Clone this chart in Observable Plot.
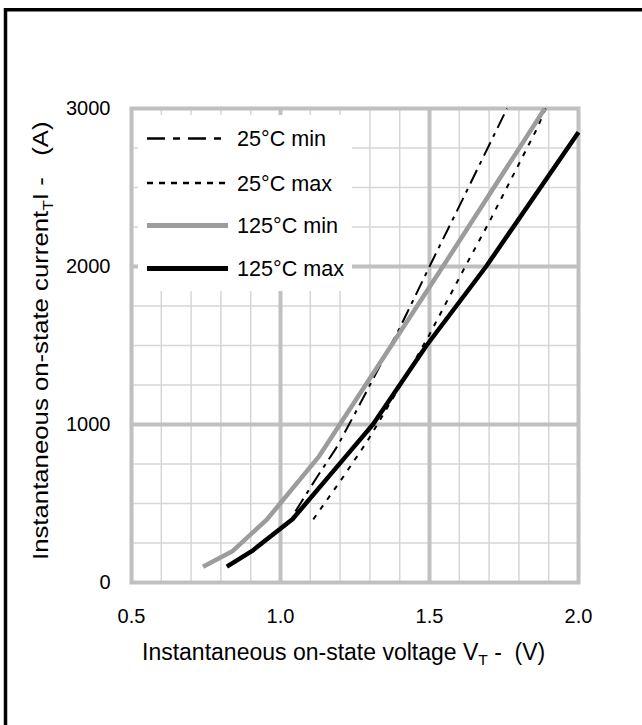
<!DOCTYPE html>
<html><head><meta charset="utf-8">
<script src="https://cdn.jsdelivr.net/npm/d3@7"></script>
<script src="https://cdn.jsdelivr.net/npm/@observablehq/plot@0.6"></script>
<style>body{margin:0;background:#fff} #chart{position:relative;width:642px;height:725px;overflow:hidden}</style>
</head><body><div id="chart"></div>
<script>
// Series names (legend order)
const seriesNames = ["25°C min", "25°C max", "125°C min", "125°C max"];
// Instantaneous on-state voltage V_T (V) and current I_T (A)
const v25min = [1.05, 1.12, 1.19, 1.25, 1.30, 1.40, 1.50, 1.61, 1.76];
const i25min = [450, 660, 860, 1070, 1250, 1610, 2000, 2420, 3000];
const v25max = [1.11, 1.20, 1.29, 1.41, 1.50, 1.62, 1.70, 1.86, 1.89];
const i25max = [400, 640, 890, 1270, 1570, 2000, 2280, 2870, 3000];
const v125min = [0.74, 0.84, 0.955, 1.13, 1.545, 1.887];
const i125min = [100, 200, 400, 800, 2000, 3000];
const v125max = [0.82, 0.905, 1.04, 1.22, 1.31, 1.49, 1.69, 2.0];
const i125max = [100, 200, 400, 800, 1000, 1500, 2000, 2850];
// Axis ticks and grid
const xTicks = [0.5, 1.0, 1.5, 2.0];
const yTicks = [0, 1000, 2000, 3000];
const xMajor = [1.0, 1.5];
const yMajor = [1000, 2000];
const xMinor = [0.6, 0.7, 0.8, 0.9, 1.1, 1.2, 1.3, 1.4, 1.6, 1.7, 1.8, 1.9];
const yMinor = [250, 500, 750, 1250, 1500, 1750, 2250, 2500, 2750];

const styles = {
  "25°C min": {stroke: "#000", strokeWidth: 2, strokeDasharray: "15,6,4,6", legendWidth: 2.6, legendDash: "18,8,7,8"},
  "25°C max": {stroke: "#000", strokeWidth: 2, strokeDasharray: "5,7", legendWidth: 2.6, legendDash: "6,6"},
  "125°C min": {stroke: "#9c9c9c", strokeWidth: 4.5, strokeDasharray: null, legendWidth: 5, legendDash: null},
  "125°C max": {stroke: "#000", strokeWidth: 4.5, strokeDasharray: null, legendWidth: 5, legendDash: null}
};
const seriesV = [v25min, v25max, v125min, v125max];
const seriesI = [i25min, i25max, i125min, i125max];
const rows = [];
seriesNames.forEach((s, k) => seriesV[k].forEach((v, j) => rows.push({s, v, i: seriesI[k][j]})));

const FONT = "'Liberation Sans', Arial, sans-serif";
const lineMarks = seriesNames.map(s => Plot.line(rows.filter(d => d.s === s), {
  x: "v", y: "i", stroke: styles[s].stroke, strokeWidth: styles[s].strokeWidth,
  strokeDasharray: styles[s].strokeDasharray || undefined, strokeLinejoin: "miter", strokeLinecap: "butt"
}));

const svg = Plot.plot({
  width: 642, height: 725,
  marginLeft: 131, marginRight: 64, marginTop: 108, marginBottom: 143,
  style: {fontFamily: FONT, fontSize: "20px", color: "#000", background: "#fff"},
  x: {domain: [0.5, 2.0], label: null},
  y: {domain: [0, 3000], label: null},
  marks: [
    Plot.ruleX(xMinor, {stroke: "#d6d6d6", strokeWidth: 1.5}),
    Plot.ruleY(yMinor, {stroke: "#d6d6d6", strokeWidth: 1.5}),
    Plot.ruleX(xMajor, {stroke: "#c0c0c0", strokeWidth: 4}),
    Plot.ruleY(yMajor, {stroke: "#c0c0c0", strokeWidth: 4}),
    Plot.frame({stroke: "#c0c0c0", strokeWidth: 4}),
    Plot.axisX({ticks: xTicks, tickFormat: d => d.toFixed(1), tickSize: 0, tickPadding: 26, fontSize: 20, label: null}),
    Plot.axisY({ticks: yTicks, tickFormat: d => String(d), tickSize: 0, tickPadding: 21, fontSize: 20, label: null}),
    ...lineMarks
  ]
});
document.getElementById("chart").appendChild(svg);

const sel = d3.select(svg);
// Outer black border (left and top edges visible)
sel.append("line").attr("x1", 5.5).attr("x2", 5.5).attr("y1", 8).attr("y2", 725).attr("stroke", "#000").attr("stroke-width", 3.5);
sel.append("line").attr("x1", 4).attr("x2", 642).attr("y1", 9.8).attr("y2", 9.8).attr("stroke", "#000").attr("stroke-width", 3.5);

// Legend
const lg = sel.append("g").attr("font-family", FONT).attr("text-anchor", "start");
lg.append("rect").attr("x", 138).attr("y", 115).attr("width", 214).attr("height", 176).attr("fill", "#fff");
const rowY = [138.5, 183, 225.5, 268.5];
seriesNames.forEach((s, k) => {
  const st = styles[s];
  lg.append("line").attr("x1", 147).attr("x2", 228).attr("y1", rowY[k]).attr("y2", rowY[k])
    .attr("stroke", st.stroke).attr("stroke-width", st.legendWidth)
    .attr("stroke-dasharray", st.legendDash);
  lg.append("text").attr("x", 237).attr("y", rowY[k]).attr("dy", "0.36em").attr("text-anchor", "start")
    .attr("font-size", 21.6).attr("fill", "#000").text(s);
});

// X axis label with subscript
const xl = sel.append("text").attr("x", 142).attr("y", 660).attr("font-family", FONT).attr("text-anchor", "start")
  .attr("font-size", 23).attr("fill", "#000").style("white-space", "pre");
xl.append("tspan").text("Instantaneous on-state voltage V");
xl.append("tspan").attr("font-size", 15.5).attr("dy", 5).text("T");
xl.append("tspan").attr("dy", -5).text(" -  (V)");

// Y axis label with subscript
const yl = sel.append("text").attr("transform", "translate(48,560) rotate(-90) scale(1.12,1)").attr("font-family", FONT).attr("text-anchor", "start")
  .attr("font-size", 23).attr("fill", "#000").style("white-space", "pre");
yl.append("tspan").text("Instantaneous on-state current");
yl.append("tspan").attr("font-size", 15.5).attr("dy", 5).text("T");
yl.append("tspan").attr("dy", -5).text("I -   (A)");
</script>
</body></html>
